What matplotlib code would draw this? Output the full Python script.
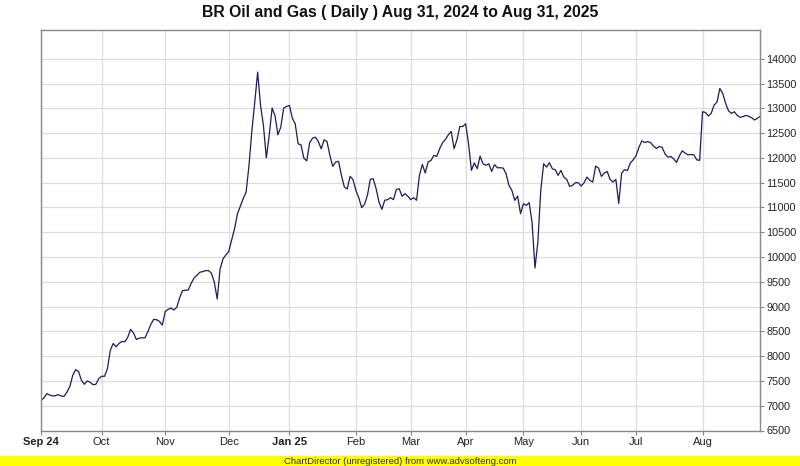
import numpy as np
import matplotlib
matplotlib.use("Agg")
from matplotlib import pyplot as plt

# daily closes, one per trading day
prices = [
    7108, 7155, 7243, 7216, 7196, 7203, 7223, 7196, 7189, 7277,
    7392, 7614, 7729, 7689, 7513, 7432, 7500, 7473, 7425, 7432,
    7547, 7594, 7594, 7749, 8120, 8256, 8188, 8256, 8296, 8289,
    8377, 8539, 8472, 8336, 8364, 8370, 8370, 8492, 8640, 8742,
    8735, 8701, 8627, 8900, 8944, 8971, 8931, 8985, 9180, 9322,
    9330, 9336, 9471, 9578, 9632, 9693, 9706, 9726, 9726, 9673,
    9491, 9154, 9760, 9962, 10043, 10110, 10345, 10568, 10871, 11025,
    11180, 11308, 11846, 12553, 13125, 13731, 13058, 12654, 12000, 12452,
    13004, 12856, 12466, 12620, 13004, 13038, 13058, 12802, 12688, 12284,
    12264, 11994, 11940, 12304, 12398, 12418, 12331, 12183, 12365, 12331,
    12050, 11829, 11916, 11930, 11648, 11413, 11373, 11628, 11561, 11346,
    11198, 10997, 11064, 11245, 11567, 11581, 11379, 11111, 10963, 11145,
    11158, 11198, 11158, 11359, 11379, 11225, 11279, 11225, 11158, 11198,
    11145, 11648, 11869, 11695, 11916, 11950, 12050, 12030, 12185, 12305,
    12372, 12466, 12534, 12185, 12366, 12634, 12634, 12688, 12285, 11748,
    11900, 11781, 12036, 11882, 11848, 11882, 11727, 11862, 11801, 11801,
    11794, 11680, 11445, 11344, 11143, 11230, 10874, 11075, 11042, 11096,
    10692, 9779, 10303, 11344, 11882, 11815, 11902, 11781, 11761, 11647,
    11748, 11613, 11566, 11425, 11445, 11499, 11499, 11432, 11499, 11613,
    11546, 11512, 11835, 11794, 11626, 11694, 11727, 11566, 11512, 11566,
    11080, 11694, 11761, 11747, 11894, 11961, 12048, 12216, 12343, 12309,
    12329, 12309, 12242, 12189, 12229, 12216, 12082, 12015, 12028, 11981,
    11908, 12042, 12142, 12095, 12062, 12068, 12062, 11961, 11950, 12930,
    12918, 12844, 12898, 13065, 13125, 13400, 13300, 13099, 12951, 12898,
    12931, 12858, 12818, 12831, 12858, 12838, 12811, 12764, 12798, 12844,
]

# month ticks as trading-day index
month_pos = [0, 21, 43, 65, 86, 109, 128, 147, 167, 187, 206, 229]
month_lbl = ["Sep 24", "Oct", "Nov", "Dec", "Jan 25", "Feb", "Mar", "Apr",
             "May", "Jun", "Jul", "Aug"]
bold_lbl = ["Sep 24", "Jan 25"]

yticks = list(range(6500, 14001, 500))

plt.rcParams['font.family'] = ['Liberation Sans', 'DejaVu Sans']

fig = plt.figure(figsize=(8, 4.66), dpi=100)
ax = fig.add_axes([41/800, 1-430.5/466, 719.3/800, 400/466])

x = np.arange(len(prices))
ax.plot(x, prices, color='#1c1c5c', lw=0.9)

ax.set_xlim(0, len(prices)-1)
ax.set_ylim(6500, 14570)

ax.set_yticks(yticks)
ax.set_yticklabels([str(v) for v in yticks], fontsize=7.8, color='#222222')
ax.yaxis.tick_right()
ax.set_xticks(month_pos)
ax.set_xticklabels(month_lbl, fontsize=8, color='#222222')
for t in ax.get_xticklabels():
    if t.get_text() in bold_lbl:
        t.set_fontweight('bold')

ax.grid(True, color='#dddddd', lw=0.9)
ax.set_axisbelow(True)
ax.tick_params(axis='both', length=3, width=0.8, color='#888888', pad=1.5)
for s in ax.spines.values():
    s.set_color('#888888')
    s.set_linewidth(1.0)

fig.text(0.5, 1-12/466, "BR Oil and Gas ( Daily ) Aug 31, 2024 to Aug 31, 2025",
         ha='center', va='center', fontsize=11.3, fontweight='bold', color='#111111')

# footer band
fig.patches.append(plt.Rectangle((0, 0), 1, 10/466, transform=fig.transFigure,
                                 color='#ffff00', zorder=0))
fig.text(0.5, 5/466, "ChartDirector (unregistered) from www.advsofteng.com",
         ha='center', va='center', fontsize=6.8, color='#333333')

fig.savefig("out.png", dpi=100)
